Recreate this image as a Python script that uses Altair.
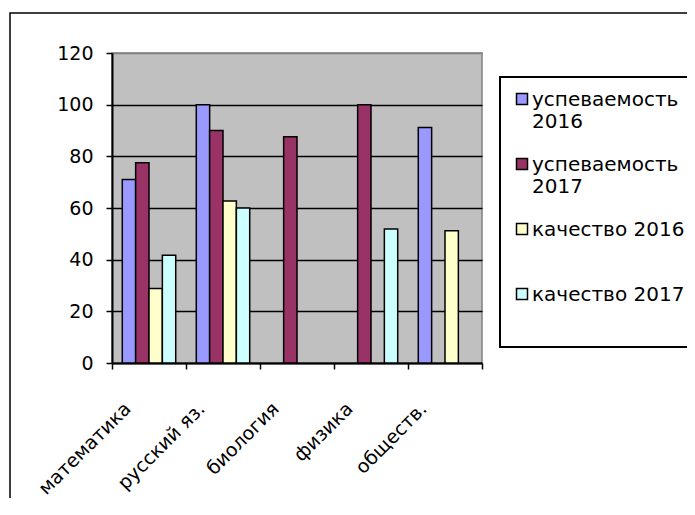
import altair as alt
import pandas as pd

subjects = ["математика", "русский яз.", "биология", "физика", "обществ."]
series = ["успеваемость 2016", "успеваемость 2017", "качество 2016", "качество 2017"]
usp_2016 = [71, 100, None, None, 91.2]
usp_2017 = [77.5, 90, 87.6, 100, None]
kach_2016 = [28.8, 62.7, None, None, 51.2]
kach_2017 = [41.7, 60, None, 51.9, None]
colors = ["#9999FF", "#993366", "#FFFFCC", "#CCFFFF"]
y_ticks = [0, 20, 40, 60, 80, 100, 120]

rows = []
for name, vals in zip(series, [usp_2016, usp_2017, kach_2016, kach_2017]):
    for subj, v in zip(subjects, vals):
        if v is not None:
            rows.append({"subject": subj, "series": name, "value": v})
df = pd.DataFrame(rows)

FONT = "DejaVu Sans"
DY = 7

legend_expr = (
    "datum.label == 'успеваемость 2016' ? ['успеваемость', '2016'] : "
    "datum.label == 'успеваемость 2017' ? ['успеваемость', '2017'] : "
    "[datum.label, ' ']"
)

bars = alt.Chart(df).mark_bar(stroke="black", strokeWidth=1.5).encode(
    x=alt.X(
        "subject:N",
        sort=subjects,
        scale=alt.Scale(domain=subjects, paddingInner=0, paddingOuter=0),
        axis=alt.Axis(
            title=None,
            labelAngle=-45,
            tickBand="extent",
            labelOffset=-33,
            labelPadding=25,
            labelFontSize=19,
        ),
    ),
    xOffset=alt.XOffset(
        "series:N",
        scale=alt.Scale(domain=series, paddingInner=0, paddingOuter=0.77),
    ),
    y=alt.Y(
        "value:Q",
        scale=alt.Scale(domain=[0, 120], nice=False),
        axis=alt.Axis(
            title=None,
            values=y_ticks,
            grid=True,
            gridColor={"condition": {"test": "datum.value == 120", "value": "#808080"}, "value": "black"},
            gridWidth=1.5,
            labelPadding=13,
            labelOffset=-DY,
            labelFontSize=19,
        ),
    ),
    color=alt.Color(
        "series:N",
        scale=alt.Scale(domain=series, range=colors),
        legend=alt.Legend(
            title=" ",
            titleOrient="bottom",
            titleFontSize=8,
            titlePadding=0,
            orient="none",
            legendX=388,
            legendY=24,
            symbolType="square",
            symbolSize=121,
            symbolStrokeColor="black",
            symbolStrokeWidth=1.5,
            labelFontSize=20,
            labelFont=FONT,
            labelColor="black",
            labelBaseline="alphabetic",
            labelOffset=0,
            labelLimit=400,
            rowPadding=22,
            padding=12,
            strokeColor="black",
            fillColor="white",
            labelExpr=legend_expr,
        ),
    ),
)

frame = alt.Chart(pd.DataFrame({"f": [0]})).mark_rect(
    filled=False, stroke="black", strokeWidth=1.5
).encode(
    x=alt.value(-102), x2=alt.value(620), y=alt.value(-40), y2=alt.value(500)
)

chart = alt.layer(frame, bars).properties(
    width=370,
    height=310,
    autosize=alt.AutoSizeParams(type="none"),
    padding={"left": 104, "top": 45, "right": 205, "bottom": 135},
).configure(
    style={"guide-label": {"dy": DY}}
).configure_view(
    fill="#C0C0C0", stroke="#808080", strokeWidth=1.5
).configure_axis(
    labelFont=FONT,
    labelColor="black",
    domainColor="black",
    domainWidth=2,
    tickColor="black",
    tickWidth=1.5,
    tickSize=6,
).configure_legend(
    strokeWidth=2
)

chart.save("out.html", embed_options={"renderer": "svg", "actions": False})
